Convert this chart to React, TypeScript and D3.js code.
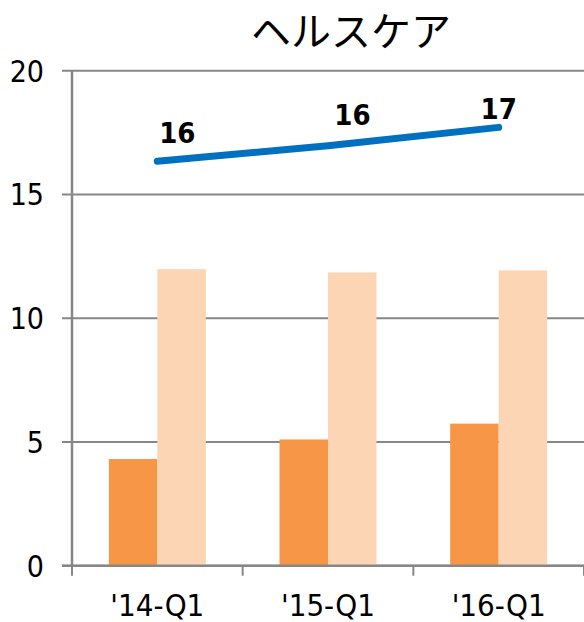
import React from "react";
import * as d3 from "d3";

const title = "ヘルスケア";
const categories = ["'14-Q1", "'15-Q1", "'16-Q1"];
const seriesNames = ["A", "B"];
const darkValues = [4.31, 5.1, 5.74];
const lightValues = [11.98, 11.85, 11.93];
const lineValues = [16.34, 16.97, 17.71];
const lineLabels = ["16", "16", "17"];
const yTicks = [0, 5, 10, 15, 20];

const W = 584;
const H = 622;
const left = 72;
const right = 584;
const top = 70.7;
const bottom = 565.7;

const labelOffsets = [
  [20, -29],
  [24.5, -31.5],
  [0, -19],
];

export default function App() {
  const x0 = d3.scaleBand<string>().domain(categories).range([left, right]).paddingInner(0).paddingOuter(0);
  const bw = x0.bandwidth();
  const x1 = d3.scaleBand<string>().domain(seriesNames).range([0, bw]).paddingInner(0).paddingOuter(0.76);
  const y = d3.scaleLinear().domain([0, 20]).range([bottom, top]);
  const cx = (c: string) => (x0(c) as number) + bw / 2;
  const line = d3
    .line<number>()
    .x((_, i) => cx(categories[i]))
    .y((d) => y(d));
  const font = "'DejaVu Sans Condensed', 'DejaVu Sans', Verdana, sans-serif";
  const grid = "#878787";
  const catTicks = [...categories.map((c) => x0(c) as number), right];

  return (
    <svg width={W} height={H} style={{ position: "absolute", left: 0, top: 0, background: "#fff" }}>
      <text x={351} y={46} textAnchor="middle" fontSize={40} fontFamily="'Noto Sans CJK JP', sans-serif" fill="#000">
        {title}
      </text>
      {yTicks.map((t) => (
        <g key={t}>
          <line x1={62} x2={right} y1={y(t)} y2={y(t)} stroke={grid} strokeWidth={2} />
          <text x={44} y={y(t) + 11} textAnchor="end" fontSize={30} fontStretch="condensed" fontFamily={font} fill="#000">
            {t}
          </text>
        </g>
      ))}
      {categories.map((c, i) => (
        <g key={c}>
          <rect
            x={(x0(c) as number) + (x1("A") as number)}
            y={y(darkValues[i])}
            width={x1.bandwidth()}
            height={y(0) - y(darkValues[i])}
            fill="#F79646"
          />
          <rect
            x={(x0(c) as number) + (x1("B") as number)}
            y={y(lightValues[i])}
            width={x1.bandwidth()}
            height={y(0) - y(lightValues[i])}
            fill="#FCD5B4"
          />
        </g>
      ))}
      <line x1={left} x2={left} y1={top} y2={bottom} stroke={grid} strokeWidth={2.5} />
      <line x1={62} x2={right} y1={bottom} y2={bottom} stroke={grid} strokeWidth={2.5} />
      {catTicks.map((t, i) => (
        <line key={i} x1={t} x2={t} y1={bottom} y2={bottom + 10} stroke={grid} strokeWidth={2} />
      ))}
      {categories.map((c) => (
        <text key={c} x={cx(c)} y={616} textAnchor="middle" fontSize={31} fontStretch="condensed" fontFamily={font} fill="#000">
          {c}
        </text>
      ))}
      <path d={line(lineValues) as string} fill="none" stroke="#0070C0" strokeWidth={7} strokeLinecap="round" />
      {lineValues.map((v, i) => (
        <text
          key={i}
          x={cx(categories[i]) + labelOffsets[i][0]}
          y={y(v) + labelOffsets[i][1]}
          dy="0.36em"
          textAnchor="middle"
          fontSize={29}
          fontWeight="bold"
          fontStretch="condensed"
          fontFamily={font}
          fill="#000"
        >
          {lineLabels[i]}
        </text>
      ))}
    </svg>
  );
}
